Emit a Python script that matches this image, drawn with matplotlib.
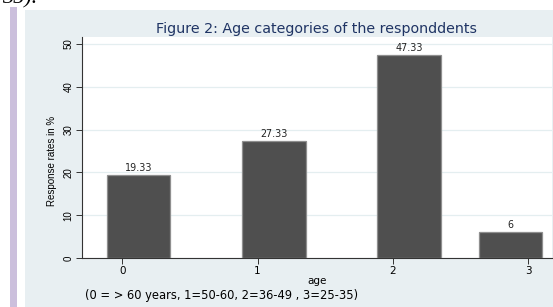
import matplotlib
matplotlib.use("Agg")
import matplotlib.pyplot as plt
from matplotlib.patches import Rectangle

# Data
categories = [0, 1, 2, 3]
bar_centres = [0.12, 1.12, 2.12, 2.87]   # where Stata drew the bars on the age axis
response_pct = [19.33, 27.33, 47.33, 6]
value_labels = ["19.33", "27.33", "47.33", "6"]
yticks = [0, 10, 20, 30, 40, 50]

title = "Figure 2: Age categories of the responddents"
ylabel = "Response rates in %"
xlabel = "age"
note = "(0 = > 60 years, 1=50-60, 2=36-49 , 3=25-35)"

W, H = 553, 307
DPI = 100
plt.rcParams["font.family"] = ["DejaVu Sans"]
fig = plt.figure(figsize=(W / DPI, H / DPI), dpi=DPI, facecolor="white")

def fx(px):
    return px / W

def fy(py):
    return 1 - py / H

# page decorations
fig.patches.append(Rectangle((fx(10), 0), fx(17) - fx(10), fy(7), transform=fig.transFigure,
                             facecolor="#cbbfdc", edgecolor="none", zorder=0))
fig.patches.append(Rectangle((fx(25), 0), 1 - fx(25), fy(10), transform=fig.transFigure,
                             facecolor="#e8eff2", edgecolor="none", zorder=0))
fig.text(fx(2), fy(3), "35).", fontsize=16, family="Liberation Serif", style="italic",
         ha="left", va="baseline", color="black")

left, right, top, bottom = 82, 551.7, 37, 258
ax = fig.add_axes([fx(left), fy(bottom), fx(right) - fx(left), fy(top) - fy(bottom)])
ax.set_zorder(3)
ax.set_facecolor("white")

ax.bar(bar_centres, response_pct, width=0.47, color="#4f4f4f", edgecolor="#8f8f8f",
       linewidth=0.9, zorder=3)
for x, v, s in zip(bar_centres, response_pct, value_labels):
    ax.annotate(s, (x, v), xytext=(0, 5.2), textcoords="offset points", ha="center",
                va="center", fontsize=6.9, color="#222222")

ax.set_xlim(-0.298, 3.175)
ax.set_ylim(0, 51.6)
ax.set_xticks(categories)
ax.set_xticklabels([str(c) for c in categories], fontsize=7.5)
ax.set_yticks(yticks)
ax.set_yticklabels([str(t) for t in yticks], fontsize=7, rotation=90, va="center",
                   family="Liberation Sans")
ax.yaxis.grid(True, color="#e4eef0", linewidth=0.9, zorder=0)
ax.set_axisbelow(True)
for s in ["top", "right"]:
    ax.spines[s].set_visible(False)
for s in ["left", "bottom"]:
    ax.spines[s].set_color("#333333")
    ax.spines[s].set_linewidth(0.8)
ax.tick_params(axis="both", length=4, width=0.7, color="#333333", pad=2)

fig.text(fx(316), fy(29), title, fontsize=10.3, color="#1f3464", ha="center", va="center")
fig.text(fx(52), fy(161), ylabel, fontsize=7, rotation=90, ha="center", va="center",
         family="Liberation Sans")
fig.text(fx(317), fy(281), xlabel, fontsize=7.5, ha="center", va="center")
fig.text(fx(85), fy(296), note, fontsize=8.3, ha="left", va="center")

fig.savefig("out.png", dpi=DPI, facecolor="white")
